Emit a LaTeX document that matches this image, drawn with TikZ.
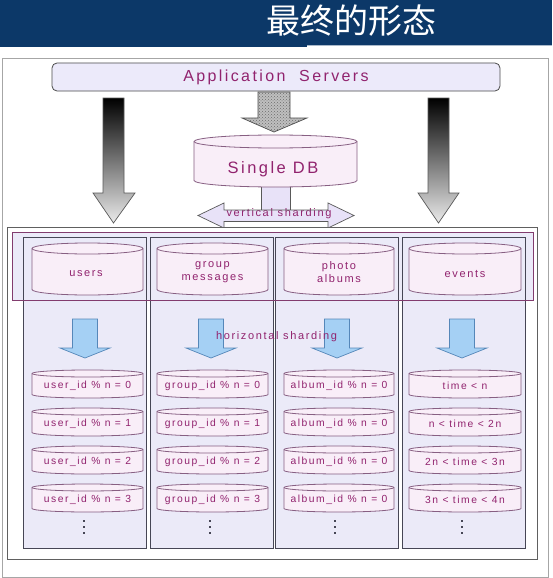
\documentclass[tikz,border=0pt]{standalone}
\usepackage{fontspec}
\setmainfont{Liberation Sans}
\newfontfamily\cjkfont{Noto Sans CJK SC}
\newfontfamily\trk[LetterSpace=15]{Liberation Sans}
\usetikzlibrary{patterns}
\definecolor{navy}{RGB}{12,56,104}
\definecolor{txt}{RGB}{145,35,110}
\definecolor{appfill}{RGB}{236,234,250}
\definecolor{colfill}{RGB}{235,234,248}
\definecolor{cylfill}{RGB}{249,238,248}
\definecolor{cylline}{RGB}{135,95,130}
\definecolor{colline}{RGB}{70,70,85}
\definecolor{bandline}{RGB}{130,60,110}
\definecolor{bluef}{RGB}{165,208,244}
\definecolor{blued}{RGB}{85,135,185}
\definecolor{vshfill}{RGB}{232,226,248}
\newcommand{\cyl}[5]{%
  \pgfmathsetmacro\rx{(#3-#1)/2}%
  \path[cylsty] (#1,#2+#5) -- (#1,#4-#5) arc[start angle=180,end angle=360,x radius=\rx pt,y radius=#5pt] -- (#3,#2+#5) arc[start angle=0,end angle=180,x radius=\rx pt,y radius=#5pt] -- cycle;
  \draw[cylline,line width=0.8pt] (#1,#2+#5) arc[start angle=180,end angle=360,x radius=\rx pt,y radius=#5pt];
}
\begin{document}
\begin{tikzpicture}[x=1pt,y=-1pt,
  cylsty/.style={fill=cylfill,draw=cylline,line width=0.8pt},
  titlesty/.style={font=\cjkfont\fontsize{34}{36}\selectfont,text=white,inner sep=0pt},
  outerbox/.style={draw=gray!70,fill=white,line width=0.8pt,minimum width=546pt,minimum height=519pt,inner sep=0pt},
  appbox/.style={draw=gray!60!black,fill=appfill,rounded corners=5pt,line width=0.8pt,minimum width=448pt,minimum height=28pt,inner sep=0pt,text=txt,font=\trk\fontsize{16}{18}\selectfont},
  bigarrow/.style={top color=black,bottom color=white!92!black,draw=gray!70!black,line width=0.7pt},
  hatcharrow/.style={fill=gray!50,postaction={pattern=crosshatch dots,pattern color=gray!85!black},draw=gray!60!black,line width=0.7pt},
  bigtxt/.style={text=txt,font=\trk\fontsize{16.5}{18}\selectfont,inner sep=0pt},
  midtxt/.style={text=txt,font=\trk\fontsize{11}{13}\selectfont,inner sep=0pt,align=center},
  rowtxt/.style={text=txt,font=\trk\fontsize{10.3}{12}\selectfont,inner sep=0pt},
  vsh/.style={fill=vshfill,draw=gray!70!black,line width=0.7pt},
  frame/.style={draw=gray!75!black,fill=white,line width=0.8pt,inner sep=0pt},
  colbox/.style={draw=colline,fill=colfill,line width=0.9pt,minimum width=123pt,minimum height=311pt,inner sep=0pt},
  bluearrow/.style={fill=bluef,draw=blued,line width=0.7pt},
  dotsty/.style={fill=colline}
]
\useasboundingbox (0,0) rectangle (552,578);
% title bar
\fill[navy] (0,0) rectangle (307,47.5);
\fill[navy] (307,0) rectangle (552,45.5);
\fill[navy!35!white] (307,45.5) rectangle (552,46.5);
\node[titlesty] (title) at (351,21) {最终的形态};
% outer frame
\node[outerbox] (outer) at (275,318) {};
% application servers
\node[appbox] (app) at (276,77) {Application\ \ Servers};
% big gradient arrows
\shade[bigarrow] (103,98) -- (124,98) -- (124,193) -- (135,193) -- (113.5,223) -- (93,193) -- (103,193) -- cycle;
\shade[bigarrow] (428,98) -- (449,98) -- (449,193) -- (459,193) -- (438.5,223) -- (418,193) -- (428,193) -- cycle;
% hatched arrow
\path[hatcharrow] (258,92) -- (290,92) -- (290,118) -- (307,118) -- (274,132) -- (242,118) -- (258,118) -- cycle;
% vertical sharding
\path[vsh] (261,182) rectangle (290,212);
\fill[vshfill] (224,210) -- (224,203) -- (198,215.5) -- (224,228) -- (224,221.5) -- (328,221.5) -- (328,228) -- (354,215.5) -- (328,203) -- (328,210) -- cycle;
\node[midtxt] (vs) at (279,214) {vertical sharding};
\draw[gray!70!black,line width=0.7pt] (224,210) -- (224,203) -- (198,215.5) -- (224,228) -- (224,221.5) -- (328,221.5) -- (328,228) -- (354,215.5) -- (328,203) -- (328,210) -- cycle;
% single DB
\cyl{194}{135}{357}{187}{6.5}
\node[bigtxt] (sdb) at (273,169) {Single DB};
% big frame and band
\node[frame,minimum width=530pt,minimum height=332pt] (bigframe) at (272,393) {};
\fill[colfill] (12,232) rectangle (533,300);
\node[colbox] (col1) at (85,392.5) {};
\node[colbox] (col2) at (212,392.5) {};
\node[colbox] (col3) at (337,392.5) {};
\node[colbox] (col4) at (463.5,392.5) {};
\node[draw=bandline,line width=0.9pt,minimum width=521pt,minimum height=68pt,inner sep=0pt] (band) at (272.5,266) {};
% top cylinders
\cyl{32}{243}{143}{295}{5.5}
\cyl{157}{243}{268}{295}{5.5}
\cyl{284}{243}{394}{295}{5.5}
\cyl{409}{243}{521}{295}{5.5}
\node[midtxt] (users) at (86,274) {users};
\node[midtxt] (groups) at (212.5,272.5) {group\\messages};
\node[midtxt] (photos) at (339,272.5) {photo\\albums};
\node[midtxt] (events) at (465,274) {events};
% blue arrows
\foreach \cx in {85,211,337,462} {
  \path[bluearrow] (\cx-12.5,319) -- (\cx+12.5,319) -- (\cx+12.5,348) -- (\cx+25,348) -- (\cx,358) -- (\cx-25,348) -- (\cx-12.5,348) -- cycle;
}
\node[midtxt] (hs) at (276.5,337) {horizontal sharding};
% shard cylinders
\foreach \t in {370,408,446,484} {
  \cyl{32}{\t}{143}{\t+28}{3.5}
  \cyl{157}{\t}{268}{\t+28}{3.5}
  \cyl{284}{\t}{394}{\t+28}{3.5}
  \cyl{409}{\t}{521}{\t+28}{3.5}
}
\foreach \n/\y in {0/386,1/424,2/462,3/500} {
  \node[rowtxt] (u\n) at (87.5,\y) {user\_id \% n = \n};
  \node[rowtxt] (g\n) at (212.5,\y) {group\_id \% n = \n};
  \node[rowtxt] (a\n) at (339,\y) {album\_id \% n = 0};
}
\node[rowtxt] (t0) at (465,386) {time < n};
\node[rowtxt] (t1) at (465,424) {n < time < 2n};
\node[rowtxt] (t2) at (465,462) {2n < time < 3n};
\node[rowtxt] (t3) at (465,500) {3n < time < 4n};
% dots
\foreach \dx in {84,210,335,462} {
  \foreach \dy in {521,527,533} {
    \fill[dotsty] (\dx-1,\dy-1) rectangle (\dx+1,\dy+1);
  }
}
\end{tikzpicture}
\end{document}
